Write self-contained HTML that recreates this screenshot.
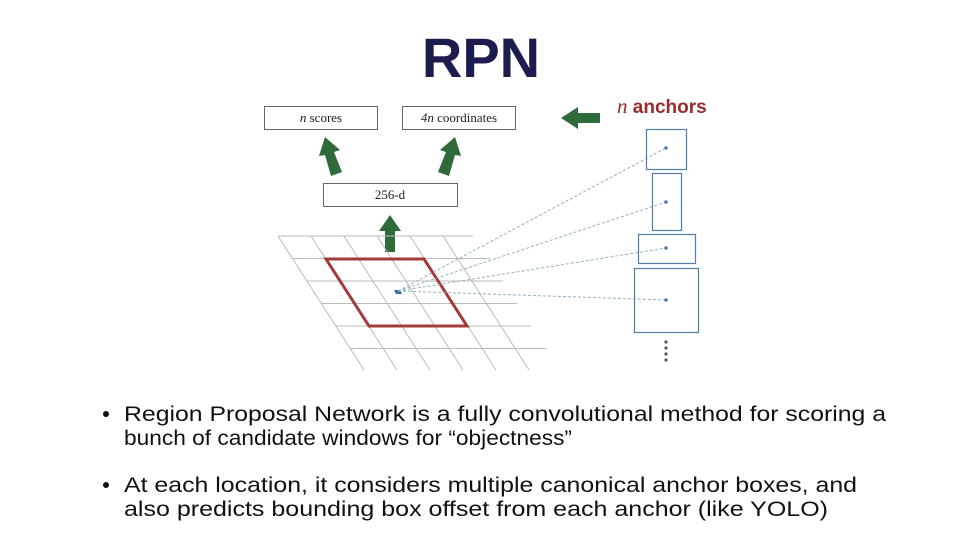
<!DOCTYPE html>
<html><head><meta charset="utf-8"><style>
html,body{margin:0;padding:0;background:#fff;}
svg{display:block}
</style></head><body>
<svg width="967" height="541" viewBox="0 0 967 541" xmlns="http://www.w3.org/2000/svg">
<rect width="967" height="541" fill="#fff"/>
<text x="481" y="77" text-anchor="middle" font-family="Liberation Sans, sans-serif" font-weight="bold" font-size="56" fill="#1c1c4f">RPN</text>

<g fill="#fff" stroke="#666" stroke-width="1">
<rect x="264.5" y="106.5" width="113" height="23"/>
<rect x="402.5" y="106.5" width="113" height="23"/>
<rect x="323.5" y="183.5" width="134" height="23"/>
</g>
<g font-family="Liberation Serif, serif" font-size="13" fill="#222" text-anchor="middle">
<text x="321" y="122"><tspan font-style="italic">n</tspan> scores</text>
<text x="459" y="122"><tspan font-style="italic">4n</tspan> coordinates</text>
<text x="390" y="199">256-d</text>
</g>

<g fill="#2f6b3a">
<polygon points="331,176 342,172 334,152 340,150 325,137 319,156 325,155"/>
<polygon points="449,176 438,172 446,152 440,150 455,137 461,156 455,155"/>
<polygon points="385,252 395,252 395,231 401,231 390,215 379,231 385,231"/>
<polygon points="600,113 600,123 578,123 578,129 561,118 578,107 578,113"/>
</g>
<text x="617" y="113" font-family="Liberation Sans, sans-serif" font-weight="bold" font-size="19" fill="#9b2a2a"><tspan font-family="Liberation Serif, serif" font-style="italic" font-weight="normal" font-size="21">n</tspan> anchors</text>

<g stroke="#bbb" stroke-width="1">
<line x1="278" y1="236" x2="473" y2="236"/>
<line x1="293" y1="258.5" x2="490" y2="258.5"/>
<line x1="307" y1="281" x2="503" y2="281"/>
<line x1="321" y1="303.5" x2="517" y2="303.5"/>
<line x1="336" y1="326" x2="531" y2="326"/>
<line x1="350" y1="348.5" x2="546" y2="348.5"/>
<line x1="278" y1="236" x2="364" y2="370"/>
<line x1="311" y1="236" x2="397" y2="370"/>
<line x1="344" y1="236" x2="430" y2="370"/>
<line x1="377" y1="236" x2="463" y2="370"/>
<line x1="410" y1="236" x2="496" y2="370"/>
<line x1="443" y1="236" x2="529" y2="370"/>
</g>
<polygon points="326,259 424,259 467,326 369,326" fill="none" stroke="#a33a3a" stroke-width="3"/>
<polygon points="394,290 400,290 402,294 396,294" fill="#3b6ea8"/>

<g stroke="#8fb0c8" stroke-width="1" stroke-dasharray="3,2" fill="none">
<line x1="398" y1="291" x2="666" y2="148"/>
<line x1="398" y1="291" x2="666" y2="202"/>
<line x1="398" y1="291" x2="666" y2="248"/>
<line x1="398" y1="291" x2="666" y2="300"/>
</g>
<g fill="none" stroke="#4f7fa6" stroke-width="1.2">
<rect x="646.5" y="129.5" width="40" height="40"/>
<rect x="652.5" y="173.5" width="29" height="57"/>
<rect x="638.5" y="234.5" width="57" height="29"/>
<rect x="634.5" y="268.5" width="64" height="64"/>
</g>
<g fill="#3b6ea8">
<rect x="664.5" y="146.5" width="3" height="3"/>
<rect x="664.5" y="200.5" width="3" height="3"/>
<rect x="664.5" y="246.5" width="3" height="3"/>
<rect x="664.5" y="298.5" width="3" height="3"/>
</g>
<g fill="#555">
<circle cx="666" cy="342" r="1.6"/><circle cx="666" cy="348" r="1.6"/><circle cx="666" cy="354" r="1.6"/><circle cx="666" cy="360" r="1.6"/>
</g>

<g font-family="Liberation Sans, sans-serif" font-size="21.5" fill="#111">
<circle cx="106" cy="414" r="3" fill="#111"/>
<circle cx="106" cy="485" r="3" fill="#111"/>
<text x="124" y="421" textLength="762" lengthAdjust="spacingAndGlyphs">Region Proposal Network is a fully convolutional method for scoring a</text>
<text x="124" y="445" textLength="448" lengthAdjust="spacingAndGlyphs">bunch of candidate windows for “objectness”</text>
<text x="124" y="492" textLength="733" lengthAdjust="spacingAndGlyphs">At each location, it considers multiple canonical anchor boxes, and</text>
<text x="124" y="516" textLength="704" lengthAdjust="spacingAndGlyphs">also predicts bounding box offset from each anchor (like YOLO)</text>
</g>
</svg>
</body></html>
